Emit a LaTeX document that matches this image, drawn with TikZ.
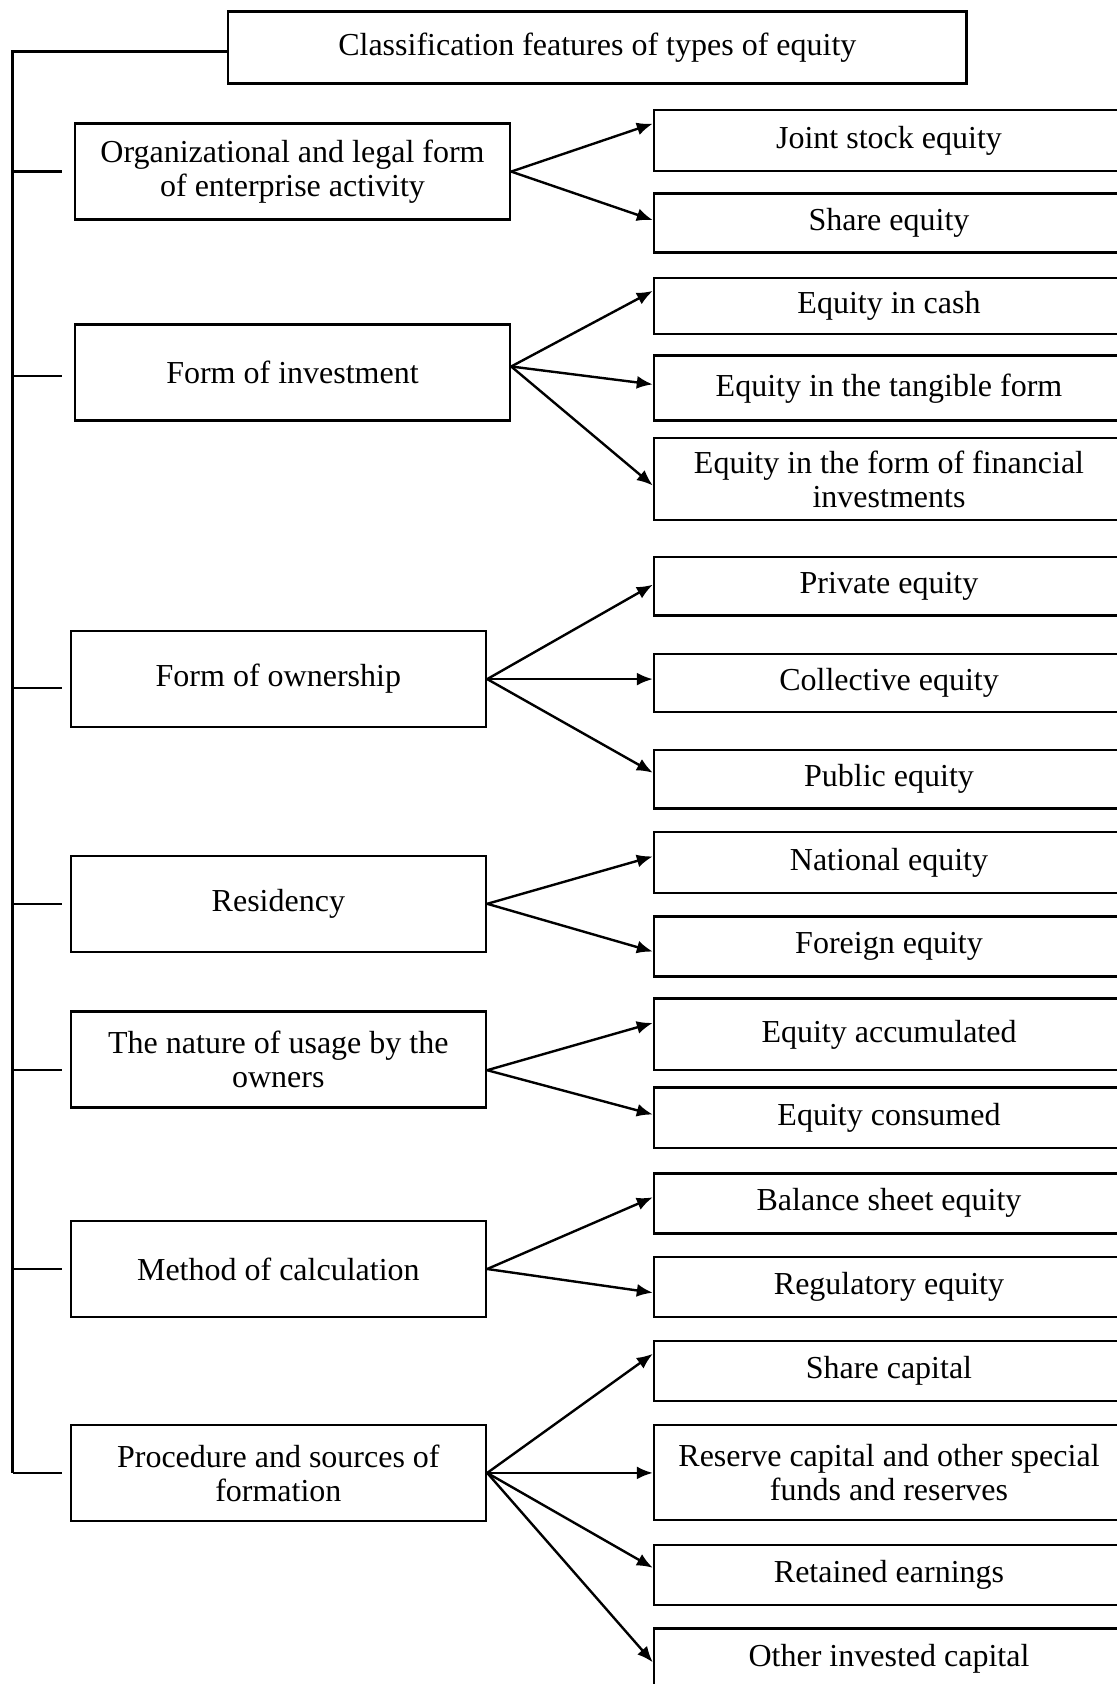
\documentclass[tikz,border=0pt]{standalone}
\usepackage{fontspec}
\setmainfont{Liberation Serif}
\usetikzlibrary{arrows.meta}
\tikzstyle{critbox} = [draw=black, line width=1.2pt, rectangle, inner sep=0pt, align=center, font=\fontsize{16}{17}\selectfont]
\tikzstyle{wideCrit} = [critbox, minimum width=217.5pt, minimum height=48pt]
\tikzstyle{narrowCrit} = [critbox, minimum width=207.65pt, minimum height=48pt]
\tikzstyle{typebox} = [critbox, minimum width=235pt]
\tikzstyle{arr} = [line width=1.2pt, -{Latex[length=8pt,width=6.5pt]}]
\tikzstyle{trunk} = [line width=1.1pt]

\begin{document}
\begin{tikzpicture}[x=0.5pt, y=-0.5pt]
	\useasboundingbox (0,0) rectangle (1117,1684);
	\clip (0,0) rectangle (1117,1684);

	% classification features
	\node [critbox, minimum width=369.3pt, minimum height=35.85pt] (title) at (597.3,47.5) {Classification features of types of equity};
	\node [wideCrit] (org) at (292.5,171.6) {Organizational and legal form\\of enterprise activity};
	\node [wideCrit] (inv) at (292.5,372.7) {Form of investment};
	\node [narrowCrit] (own) at (278.35,679.1) {Form of ownership};
	\node [narrowCrit] (res) at (278.35,903.8) {Residency};
	\node [narrowCrit] (use) at (278.35,1059.6) {The nature of usage by the\\owners};
	\node [narrowCrit] (calc) at (278.35,1269) {Method of calculation};
	\node [narrowCrit] (proc) at (278.35,1472.9) {Procedure and sources of\\formation};

	% types of equity
	\node [typebox, minimum height=30.5pt] (joint) at (889,140.4) {Joint stock equity};
	\node [typebox, minimum height=29.6pt] (share) at (889,223.1) {Share equity};
	\node [typebox, minimum height=28pt] (cash) at (889,305.8) {Equity in cash};
	\node [typebox, minimum height=32.5pt] (tang) at (889,388.2) {Equity in the tangible form};
	\node [typebox, minimum height=41.1pt] (fin) at (889,478.9) {Equity in the form of financial\\investments};
	\node [typebox, minimum height=29.25pt] (priv) at (889,586.4) {Private equity};
	\node [typebox, minimum height=29.1pt] (coll) at (889,682.9) {Collective equity};
	\node [typebox, minimum height=29.3pt] (pub) at (889,779.1) {Public equity};
	\node [typebox, minimum height=30.35pt] (nat) at (889,862.4) {National equity};
	\node [typebox, minimum height=30pt] (forn) at (889,946.4) {Foreign equity};
	\node [typebox, minimum height=35.85pt] (accu) at (889,1034.4) {Equity accumulated};
	\node [typebox, minimum height=30.2pt] (cons) at (889,1117.5) {Equity consumed};
	\node [typebox, minimum height=30pt] (bal) at (889,1203.3) {Balance sheet equity};
	\node [typebox, minimum height=30pt] (reg) at (889,1287) {Regulatory equity};
	\node [typebox, minimum height=30pt] (scap) at (889,1370.9) {Share capital};
	\node [typebox, minimum height=47.65pt] (resv) at (889,1472.4) {Reserve capital and other special\\funds and reserves};
	\node [typebox, minimum height=30.25pt] (ret) at (889,1575) {Retained earnings};
	\node [typebox, minimum height=29.85pt] (oth) at (889,1658.3) {Other invested capital};

	% left bracket
	\coordinate (spine) at (12.5,51.6);
	\draw [trunk] (title.west) ++(0,4.1) -| (spine |- proc.west);
	\draw [trunk] (spine |- org.west) -- ++(49,0);
	\draw [trunk] (spine |- inv.west) ++(0,3.7) -- ++(49,0);
	\draw [trunk] (spine |- own.west) ++(0,8.9) -- ++(49,0);
	\draw [trunk] (spine |- res.west) -- ++(49,0);
	\draw [trunk] (spine |- use.west) ++(0,10.6) -- ++(49,0);
	\draw [trunk] (spine |- calc.west) -- ++(49,0);
	\draw [trunk] (spine |- proc.west) -- ++(49,0);

	% arrows
	\draw [arr] (org.east) -- ([yshift=8.4pt]joint.west);
	\draw [arr] (org.east) -- ([yshift=1.5pt]share.west);
	\draw [arr] ([yshift=3.1pt]inv.east) -- ([yshift=7.45pt]cash.west);
	\draw [arr] ([yshift=3.1pt]inv.east) -- ([yshift=1.9pt]tang.west);
	\draw [arr] ([yshift=3.1pt]inv.east) -- ([yshift=-3.3pt]fin.west);
	\draw [arr] (own.east) -- ([yshift=0.85pt]priv.west);
	\draw [arr] (own.east) -- (own.east -| coll.west);
	\draw [arr] (own.east) -- ([yshift=3.2pt]pub.west);
	\draw [arr] (res.east) -- ([yshift=3pt]nat.west);
	\draw [arr] (res.east) -- ([yshift=-2.6pt]forn.west);
	\draw [arr] ([yshift=-5.3pt]use.east) -- ([yshift=5.75pt]accu.west);
	\draw [arr] ([yshift=-5.3pt]use.east) -- ([yshift=1.5pt]cons.west);
	\draw [arr] (calc.east) -- ([yshift=3pt]bal.west);
	\draw [arr] (calc.east) -- ([yshift=-2.85pt]reg.west);
	\draw [arr] (proc.east) -- ([yshift=8.55pt]scap.west);
	\draw [arr] (proc.east) -- (proc.east -| resv.west);
	\draw [arr] (proc.east) -- ([yshift=3.6pt]ret.west);
	\draw [arr] (proc.east) -- ([yshift=-2pt]oth.west);
\end{tikzpicture}
\end{document}
